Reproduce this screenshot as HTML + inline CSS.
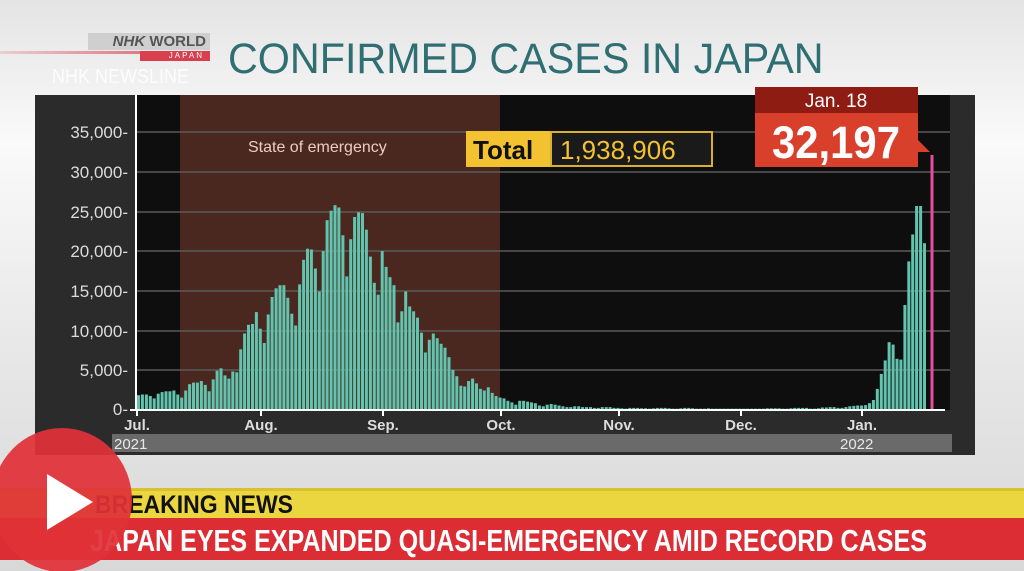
<!DOCTYPE html>
<html><head><meta charset="utf-8"><style>
body{margin:0;width:1024px;height:571px;overflow:hidden;position:relative;font-family:"Liberation Sans",sans-serif;background:linear-gradient(#e4e4e4,#fafafa 25%,#e8e8e8 60%,#d8d8d8);}
.a{position:absolute;}
</style></head><body>
<div class="a" style="left:0;top:51px;width:210px;height:3px;background:linear-gradient(90deg,rgba(220,90,100,0.2),#d85060)"></div>
<div class="a" style="left:88px;top:33px;width:122px;height:17px;background:#cfcfcf;color:#555;font-weight:bold;font-size:15px;line-height:17px;text-align:right;padding-right:4px;box-sizing:border-box"><i>NHK</i> WORLD</div>
<div class="a" style="left:140px;top:51px;width:70px;height:10px;background:#d84050;color:#fff;font-size:8px;line-height:10px;text-align:right;padding-right:6px;box-sizing:border-box;letter-spacing:2px">JAPAN</div>
<div class="a" style="left:52px;top:66px;color:rgba(255,255,255,0.8);font-size:20px;transform:scaleX(0.9);transform-origin:left">NHK NEWSLINE</div>
<div class="a" style="left:228px;top:35px;color:#2f6f73;font-size:43px;white-space:nowrap;transform:scaleX(0.96);transform-origin:left">CONFIRMED CASES IN JAPAN</div>

<svg class="a" style="left:0;top:0" width="1024" height="571">
<rect x="35" y="95" width="940" height="360" fill="#2b2b2b"/>
<rect x="136" y="95" width="814" height="315" fill="#0e0e0e"/>
<rect x="180" y="95" width="320" height="315" fill="#4a281f"/>
<g stroke="#5a5a5a" stroke-width="1.5">
<line x1="136" x2="950" y1="132" y2="132"/><line x1="136" x2="950" y1="172" y2="172"/><line x1="136" x2="950" y1="212" y2="212"/><line x1="136" x2="950" y1="251" y2="251"/><line x1="136" x2="950" y1="291" y2="291"/><line x1="136" x2="950" y1="331" y2="331"/><line x1="136" x2="950" y1="370" y2="370"/>
</g>
<g id="bars" fill="#62c4ae"></g>
<line x1="932" x2="932" y1="155" y2="410" stroke="#e0509a" stroke-width="3"/>
<line x1="136" x2="136" y1="95" y2="411" stroke="#fff" stroke-width="2"/>
<line x1="130" x2="945" y1="410" y2="410" stroke="#fff" stroke-width="2"/>
<g stroke="#fff" stroke-width="2"><line x1="137" x2="137" y1="410" y2="416"/><line x1="261" x2="261" y1="410" y2="416"/><line x1="383" x2="383" y1="410" y2="416"/><line x1="501" x2="501" y1="410" y2="416"/><line x1="619" x2="619" y1="410" y2="416"/><line x1="741" x2="741" y1="410" y2="416"/><line x1="862" x2="862" y1="410" y2="416"/></g>
<g fill="#dcdcdc" font-size="17" text-anchor="end" font-family="Liberation Sans">
<text x="128" y="138">35,000-</text><text x="128" y="178">30,000-</text><text x="128" y="218">25,000-</text><text x="128" y="257">20,000-</text><text x="128" y="297">15,000-</text><text x="128" y="337">10,000-</text><text x="128" y="376">5,000-</text><text x="128" y="415">0-</text>
</g>
<g fill="#ddd" font-size="15" font-weight="bold" text-anchor="middle">
<text x="137" y="430">Jul.</text><text x="261" y="430">Aug.</text><text x="383" y="430">Sep.</text><text x="501" y="430">Oct.</text><text x="619" y="430">Nov.</text><text x="741" y="430">Dec.</text><text x="862" y="430">Jan.</text>
</g>
<rect x="112" y="434" width="840" height="18" fill="#6a6a6a"/>
<text x="114" y="449" fill="#e8e8e8" font-size="15">2021</text><text x="840" y="449" fill="#e8e8e8" font-size="15">2022</text>
<text x="248" y="152" fill="#f0c8c8" font-size="16">State of emergency</text>
<rect x="466" y="131" width="85" height="36" fill="#f2c230"/>
<text x="473" y="159" fill="#111" font-size="26" font-weight="bold">Total</text>
<rect x="551" y="132" width="161" height="34" fill="#1a1a1a" stroke="#d9b030" stroke-width="2"/>
<text x="560" y="159" fill="#f2c230" font-size="26">1,938,906</text>
<rect x="755" y="87" width="163" height="27" fill="#8e1c12"/>
<text x="836" y="107" fill="#fff" font-size="19" text-anchor="middle">Jan. 18</text>
<polygon points="755,113 918,113 918,140 930,152 918,152 918,167 755,167" fill="#d8402c"/>
<text x="836" y="158" fill="#fff" font-size="45" font-weight="bold" text-anchor="middle" transform="translate(836 0) scale(0.93 1) translate(-836 0)">32,197</text>
<rect x="0" y="488" width="1024" height="31" fill="#ecd640"/>
<rect x="0" y="488" width="1024" height="3" fill="#d9c030"/>
<text x="95" y="513" fill="#111" font-size="25" font-weight="bold" transform="translate(95 0) scale(0.92 1) translate(-95 0)">BREAKING NEWS</text>
<rect x="0" y="518" width="1024" height="42" fill="#dc2d35"/>
<text x="90" y="551" fill="#fff" font-size="31" font-weight="bold" transform="translate(90 0) scale(0.81 1) translate(-90 0)">JAPAN EYES EXPANDED QUASI-EMERGENCY AMID RECORD CASES</text>
<ellipse cx="62" cy="500" rx="70" ry="72" fill="#e03238" opacity="0.93"/>
<polygon points="47,474 47,530 93,502" fill="#fff"/>
</svg>
<script>
var d=[1.8,1.9,1.9,1.7,1.4,2.0,2.2,2.3,2.3,2.4,1.9,1.5,2.4,3.2,3.4,3.4,3.6,3.1,2.3,3.8,4.9,5.2,4.3,3.9,4.8,4.7,7.6,9.6,10.7,10.8,12.3,
10.2,8.4,12.0,14.2,15.3,15.7,15.7,14.1,12.1,10.6,15.8,18.9,20.3,20.2,17.8,14.9,20.0,23.9,25.1,25.8,25.5,22.0,16.8,21.5,24.3,24.9,24.8,22.7,19.3,16.0,14.5,
20.0,18.0,16.7,15.7,11.0,12.4,14.9,13.0,12.4,11.6,9.7,7.2,8.8,9.6,9.0,8.3,7.8,6.6,5.0,4.2,3.0,2.9,3.6,3.9,3.3,2.6,2.4,2.8,2.1,1.7,
1.5,1.4,1.1,0.9,0.6,1.1,1.1,1.0,0.9,0.8,0.5,0.4,0.6,0.7,0.6,0.5,0.4,0.3,0.3,0.4,0.4,0.3,0.3,0.3,0.2,0.2,0.3,0.3,0.3,0.2,0.2,
0.15,0.1,0.2,0.2,0.2,0.15,0.15,0.1,0.15,0.2,0.2,0.2,0.15,0.1,0.1,0.15,0.2,0.2,0.15,0.1,0.1,0.1,0.15,0.1,0.1,0.1,0.1,0.1,0.1,0.1,
0.1,0.1,0.1,0.1,0.1,0.1,0.1,0.15,0.15,0.15,0.15,0.1,0.1,0.15,0.2,0.2,0.2,0.2,0.1,0.1,0.15,0.25,0.25,0.3,0.3,0.2,0.2,0.3,0.4,0.45,0.5,
0.5,0.55,0.8,1.2,2.6,4.5,6.2,8.5,8.2,6.4,6.3,13.2,18.7,22.1,25.7,25.7,21.0];
var g=document.getElementById('bars'),s='';
for(var i=0;i<d.length;i++){var h=d[i]*7.92;var x=137+i*3.93;s+='<rect x="'+x.toFixed(1)+'" y="'+(409.5-h).toFixed(1)+'" width="3" height="'+h.toFixed(1)+'"/>';}
g.innerHTML=s;
</script>
</body></html>
